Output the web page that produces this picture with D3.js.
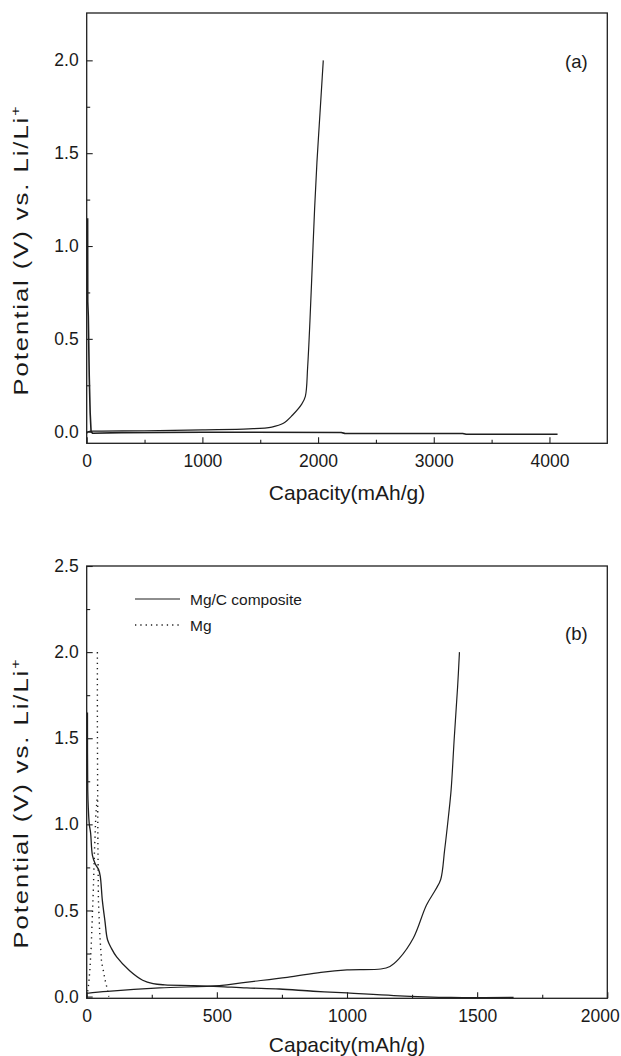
<!DOCTYPE html>
<html><head><meta charset="utf-8">
<script src="https://cdn.jsdelivr.net/npm/d3@7"></script>
<style>
html,body{margin:0;padding:0;background:#fff;}
svg{display:block;}
text{font-family:"Liberation Sans",Arial,Helvetica,sans-serif;fill:#1a1a1a;}
</style></head>
<body>
<svg id="chart" width="621" height="1056"></svg>
<script>
// ---------- DATA ----------
// Panel (a): Mg/C composite, first discharge and charge (capacity mAh/g, potential V)
const aDischarge = [[8,1.15],[9,0.7],[14,0.62],[22,0.3],[30,0.1],[38,0.0],[50,-0.008],[300,-0.005],[1000,-0.003],[2200,-0.004],[2230,-0.009],[3250,-0.01],[3280,-0.014],[4070,-0.014]];
const aCharge = [[0,-0.01],[10,0.0],[100,0.003],[500,0.005],[1000,0.01],[1400,0.015],[1600,0.025],[1700,0.045],[1780,0.09],[1860,0.15],[1890,0.19],[1910,0.35],[1930,0.6],[1950,0.9],[1970,1.2],[1990,1.45],[2010,1.65],[2030,1.85],[2045,2.0]];
const aXTicks = [0,1000,2000,3000,4000];
const aYTicks = [0.0,0.5,1.0,1.5,2.0];

// Panel (b)
const bCompDischarge = [[3,1.65],[4,1.2],[6,1.1],[10,1.0],[15,0.95],[22,0.82],[33,0.77],[45,0.74],[52,0.7],[60,0.56],[70,0.44],[80,0.33],[95,0.28],[115,0.23],[165,0.15],[215,0.095],[255,0.075],[300,0.068],[410,0.064],[510,0.058],[615,0.05],[740,0.044],[870,0.031],[1000,0.021],[1180,0.006],[1400,-0.005],[1640,-0.005]];
const bCompCharge = [[0,0.019],[80,0.03],[280,0.05],[510,0.064],[610,0.083],[770,0.112],[900,0.141],[1000,0.155],[1130,0.16],[1165,0.175],[1200,0.22],[1255,0.34],[1305,0.53],[1340,0.62],[1360,0.68],[1375,0.85],[1390,1.05],[1400,1.2],[1412,1.5],[1425,1.8],[1432,2.0]];
const bMgA = [[41,2.0],[41,1.6],[42,1.2],[43,0.9],[45,0.56],[50,0.37],[57,0.2],[64,0.15],[70,0.1],[78,0.05],[85,0.0]];
const bMgB = [[0,0.0],[6,0.05],[12,0.15],[17,0.28],[20,0.4],[25,0.6],[30,0.85],[35,1.05],[40,1.15]];
const bXTicks = [0,500,1000,1500,2000];
const bYTicks = [0.0,0.5,1.0,1.5,2.0,2.5];
const legendLabels = ["Mg/C composite","Mg"];
const panelLabels = ["(a)","(b)"];
const xTitle = "Capacity(mAh/g)";

// ---------- DRAW ----------
const svg = d3.select("#chart");
const INK = "#1f1f1f";
const DOTS = "1.3,4";

function panel(cfg){
  const g = svg.append("g");
  const x = d3.scaleLinear().domain(cfg.xDomain).range([cfg.left, cfg.right]);
  const y = d3.scaleLinear().domain(cfg.yDomain).range([cfg.bottom, cfg.top]);

  // bottom axis (ticks inward)
  const xAxis = d3.axisBottom(x).tickValues(cfg.xTicks).tickSize(-6).tickPadding(0).tickFormat(d3.format("d"));
  const gx = g.append("g").attr("transform", `translate(0,${cfg.bottom})`).call(xAxis);
  gx.select(".domain").remove();
  gx.selectAll("line").attr("stroke", INK).attr("stroke-width",1.1);
  gx.selectAll("text").attr("font-size", 17.5).attr("fill", INK).attr("y", 23.5).attr("dy", null);
  // keep the last label inside the picture
  gx.selectAll("text").each(function(){
    const bb = this.getBBox();
    const tr = this.parentNode.getAttribute("transform");
    const tx = +tr.match(/translate\(([-\d.]+)/)[1];
    const over = tx + bb.x + bb.width - 620;
    if (over > 0) d3.select(this).attr("x", -over);
  });
  // minor x ticks
  const gxm = g.append("g").attr("transform", `translate(0,${cfg.bottom})`)
    .call(d3.axisBottom(x).tickValues(cfg.xMinor).tickSize(-3.5).tickFormat(""));
  gxm.select(".domain").remove();
  gxm.selectAll("line").attr("stroke", INK).attr("stroke-width",1.1);

  const yAxis = d3.axisLeft(y).tickValues(cfg.yTicks).tickSize(-6).tickPadding(8).tickFormat(d3.format(".1f"));
  const gy = g.append("g").attr("transform", `translate(${cfg.left},0)`).call(yAxis);
  gy.select(".domain").remove();
  gy.selectAll("line").attr("stroke", INK).attr("stroke-width",1.1);
  gy.selectAll("text").attr("font-size", 17.5).attr("fill", INK);
  const gym = g.append("g").attr("transform", `translate(${cfg.left},0)`)
    .call(d3.axisLeft(y).tickValues(cfg.yMinor).tickSize(-3.5).tickFormat(""));
  gym.select(".domain").remove();
  gym.selectAll("line").attr("stroke", INK).attr("stroke-width",1.1);

  // frame
  g.append("rect").attr("x", cfg.left).attr("y", cfg.top)
    .attr("width", cfg.right-cfg.left).attr("height", cfg.bottom-cfg.top)
    .attr("fill","none").attr("stroke", INK).attr("stroke-width",1.3);

  cfg.series.forEach(s=>{
    const line = d3.line().x(d=>x(d[0])).y(d=>y(d[1]))
      .curve(s.smooth ? d3.curveCatmullRom.alpha(0.5) : d3.curveLinear);
    g.append("path").datum(s.data).attr("d", line)
      .attr("fill","none").attr("stroke", INK).attr("stroke-width", s.w || 1.2)
      .attr("stroke-dasharray", s.dash || null).attr("stroke-linejoin","round");
  });

  // titles
  g.append("text").attr("x", (cfg.left+cfg.right)/2).attr("y", cfg.xTitleY)
    .attr("text-anchor","middle").attr("font-size",21).text(xTitle);
  const yt = g.append("text").attr("transform", `translate(28,${cfg.yTitleY}) rotate(-90) scale(1.22,1)`)
    .attr("text-anchor","middle").attr("font-size",21).attr("letter-spacing",1.6);
  yt.append("tspan").text("Potential (V) vs. Li/Li");
  yt.append("tspan").attr("font-size",13).attr("dy",-8).text("+");

  g.append("text").attr("x", 565).attr("y", cfg.labelY).attr("font-size",18.5).text(cfg.label);
  return {g,x,y};
}

panel({
  left:86.7, right:607.3, top:13, bottom:443.3,
  xDomain:[0,4500], yDomain:[-0.0625,2.255],
  xTicks:aXTicks, xMinor:[500,1500,2500,3500],
  yTicks:aYTicks, yMinor:[0.25,0.75,1.25,1.75],
  series:[{data:aDischarge, w:1.6},{data:aCharge, w:1.2, smooth:true}],
  xTitleY:500, yTitleY:250, label:panelLabels[0], labelY:68
});

panel({
  left:86.7, right:607.3, top:566, bottom:998.3,
  xDomain:[0,2000], yDomain:[-0.01,2.5],
  xTicks:bXTicks, xMinor:[250,750,1250,1750],
  yTicks:bYTicks, yMinor:[0.25,0.75,1.25,1.75,2.25],
  series:[{data:bCompDischarge, w:1.3, smooth:true},{data:bCompCharge, w:1.2, smooth:true},
          {data:bMgA, w:1.4, dash:DOTS},{data:bMgB, w:1.4, dash:DOTS}],
  xTitleY:1052, yTitleY:803, label:panelLabels[1], labelY:640
});

// legend
const lg = svg.append("g");
lg.append("line").attr("x1",135).attr("x2",180).attr("y1",599).attr("y2",599).attr("stroke",INK).attr("stroke-width",1.2);
lg.append("line").attr("x1",135).attr("x2",180).attr("y1",625).attr("y2",625).attr("stroke",INK).attr("stroke-width",1.4).attr("stroke-dasharray",DOTS);
lg.selectAll("text.lg").data(legendLabels).join("text").attr("class","lg")
  .attr("x",190).attr("y",(d,i)=>605+i*26).attr("font-size",15.5).text(d=>d);
</script>
</body></html>
